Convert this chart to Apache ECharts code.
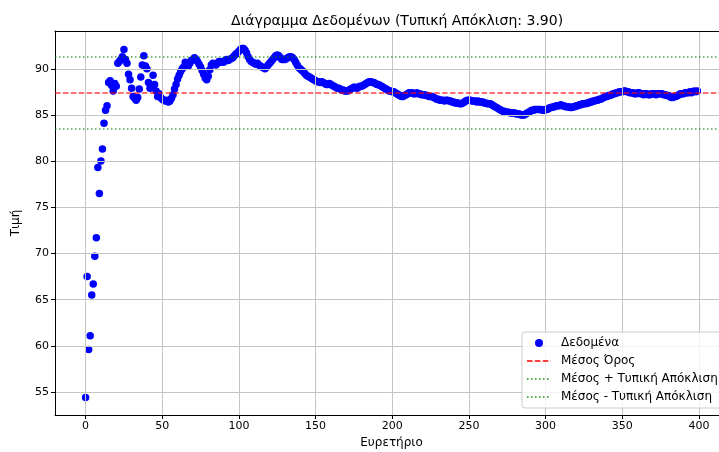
<!DOCTYPE html>
<html>
<head>
<meta charset="utf-8">
<script src="https://cdn.jsdelivr.net/npm/echarts@6/dist/echarts.min.js"></script>
<style>
  html, body { margin: 0; padding: 0; background: #fff; overflow: hidden; }
  #chart { width: 719px; height: 452px; }
</style>
</head>
<body>
<div id="chart"></div>
<script>
// Measured values, one per index 0..399
const values = [
  54.4, 67.5, 59.6, 61.1, 65.5, 66.7, 69.7, 71.7, 79.3, 76.5,
  80.0, 81.3, 84.1, 85.5, 86.0, 88.5, 88.7, 88.2, 87.6, 88.4,
  88.1, 90.6, 90.8, 91.0, 91.3, 92.1, 91.0, 90.6, 89.4, 88.8,
  87.9, 87.0, 86.8, 86.6, 86.9, 87.8, 89.1, 90.4, 91.4, 90.3,
  90.0, 88.5, 87.9, 88.0, 89.3, 88.3, 87.6, 87.0, 87.3, 86.9,
  86.7, 86.6, 86.5, 86.6, 86.4, 86.5, 86.8, 87.2, 87.8, 88.3,
  88.9, 89.3, 89.7, 90.0, 90.2, 90.7, 90.5, 90.3, 90.6, 90.9,
  91.0, 91.2, 91.0, 90.8, 90.5, 90.2, 89.8, 89.4, 89.0, 88.8,
  89.2, 89.9, 90.4, 90.6, 90.5, 90.4, 90.6, 90.8, 90.7, 90.8,
  90.7, 90.9, 91.0, 90.9, 91.0, 91.1, 91.2, 91.4, 91.6, 91.7,
  91.9, 92.1, 92.2, 92.2, 92.0, 91.7, 91.3, 91.0, 90.8, 90.7,
  90.6, 90.5, 90.6, 90.4, 90.3, 90.2, 90.1, 90.0, 90.2, 90.4,
  90.6, 90.8, 91.0, 91.2, 91.4, 91.5, 91.4, 91.2, 91.0, 91.0,
  91.0, 91.1, 91.2, 91.3, 91.3, 91.2, 91.0, 90.7, 90.4, 90.1,
  90.0, 89.8, 89.7, 89.5, 89.3, 89.2, 89.1, 89.0, 88.9, 88.8,
  88.7, 88.6, 88.6, 88.5, 88.6, 88.5, 88.4, 88.3, 88.3, 88.4,
  88.3, 88.2, 88.1, 88.0, 87.9, 87.9, 87.8, 87.7, 87.7, 87.6,
  87.6, 87.6, 87.7, 87.8, 87.9, 88.0, 88.0, 87.9, 88.0, 88.1,
  88.1, 88.2, 88.3, 88.4, 88.5, 88.6, 88.6, 88.5, 88.5, 88.4,
  88.3, 88.3, 88.2, 88.1, 88.0, 87.9, 87.8, 87.7, 87.6, 87.6,
  87.5, 87.5, 87.4, 87.3, 87.2, 87.1, 87.0, 87.0, 87.1, 87.2,
  87.3, 87.4, 87.4, 87.4, 87.3, 87.3, 87.4, 87.3, 87.3, 87.2,
  87.2, 87.2, 87.1, 87.1, 87.0, 87.0, 87.0, 86.9, 86.8, 86.7,
  86.7, 86.6, 86.6, 86.6, 86.5, 86.6, 86.6, 86.5, 86.5, 86.4,
  86.4, 86.3, 86.3, 86.3, 86.2, 86.2, 86.3, 86.4, 86.5, 86.6,
  86.6, 86.6, 86.5, 86.5, 86.5, 86.4, 86.5, 86.4, 86.4, 86.4,
  86.3, 86.3, 86.2, 86.2, 86.2, 86.1, 86.0, 85.9, 85.8, 85.7,
  85.6, 85.5, 85.4, 85.4, 85.3, 85.3, 85.3, 85.2, 85.2, 85.2,
  85.2, 85.1, 85.1, 85.1, 85.0, 85.0, 85.0, 85.1, 85.2, 85.3,
  85.4, 85.5, 85.5, 85.6, 85.6, 85.6, 85.6, 85.6, 85.5, 85.5,
  85.6, 85.6, 85.7, 85.8, 85.8, 85.9, 85.9, 86.0, 86.0, 86.0,
  86.1, 86.0, 86.0, 85.9, 85.9, 85.9, 85.8, 85.8, 85.9, 85.9,
  86.0, 86.0, 86.1, 86.1, 86.2, 86.2, 86.2, 86.3, 86.3, 86.4,
  86.4, 86.5, 86.5, 86.6, 86.6, 86.7, 86.7, 86.8, 86.9, 87.0,
  87.0, 87.1, 87.1, 87.2, 87.3, 87.3, 87.4, 87.4, 87.5, 87.5,
  87.5, 87.6, 87.6, 87.5, 87.5, 87.4, 87.4, 87.4, 87.3, 87.3,
  87.4, 87.4, 87.3, 87.3, 87.2, 87.3, 87.3, 87.2, 87.2, 87.3,
  87.3, 87.3, 87.2, 87.3, 87.3, 87.3, 87.3, 87.2, 87.2, 87.1,
  87.1, 87.0, 86.9, 86.9, 87.0, 87.0, 87.1, 87.2, 87.3, 87.3,
  87.3, 87.4, 87.4, 87.4, 87.5, 87.4, 87.5, 87.6, 87.5, 87.6
];

// Summary statistics shown as reference lines
const meanValue = 87.40;
const stdValue = 3.90;

// Tick positions
const xTicks = [0, 50, 100, 150, 200, 250, 300, 350, 400];
const yTicks = [55, 60, 65, 70, 75, 80, 85, 90];

// Texts
const titleText = 'Διάγραμμα Δεδομένων (Τυπική Απόκλιση: ' + stdValue.toFixed(2) + ')';
const xName = 'Ευρετήριο';
const yName = 'Τιμή';
const seriesNames = ['Δεδομένα', 'Μέσος Όρος', 'Μέσος + Τυπική Απόκλιση', 'Μέσος - Τυπική Απόκλιση'];

const FONT = 'DejaVu Sans';
const points = values.map((v, i) => [i, v]);

// Axis limits with 5% padding around the data
const xMin = 0, xMax = values.length - 1;
const yLo = Math.min(...values), yHi = Math.max(...values);
const xPad = (xMax - xMin) * 0.05, yPad = (yHi - yLo) * 0.05;

const HIDDEN = 'rgba(0,0,0,0)';

// Horizontal reference line, drawn as a markLine of an otherwise empty line series
function refLine(name, y, color, dash) {
  const style = { color: color, width: 1.5, type: dash };
  return {
    name: name,
    type: 'line',
    data: [],
    symbol: 'none',
    z: 4,
    lineStyle: style,
    itemStyle: { color: HIDDEN },
    markLine: {
      silent: true,
      symbol: ['none', 'none'],
      label: { show: false },
      lineStyle: style,
      data: [{ yAxis: y }]
    }
  };
}

const tickFont = { color: '#000', fontFamily: FONT, fontSize: 11 };
const spine = { show: true, onZero: false, lineStyle: { color: '#000', width: 1 } };
const axisCommon = {
  type: 'value',
  z: 3,
  axisLine: spine,
  axisTick: { show: true, length: 4, lineStyle: { color: '#000', width: 1 } },
  splitLine: { show: true, lineStyle: { color: '#c4c4c4', width: 1 } },
  nameLocation: 'middle',
  nameTextStyle: { color: '#000', fontFamily: FONT, fontSize: 12 }
};

const chart = echarts.init(document.getElementById('chart'), null, { renderer: 'canvas' });
chart.setOption({
  animation: false,
  backgroundColor: '#fff',
  title: {
    text: titleText,
    left: 392,
    textAlign: 'center',
    top: 9,
    textStyle: { fontFamily: FONT, fontSize: 14, fontWeight: 'normal', color: '#000' }
  },
  grid: {
    left: 55, top: 31, width: 673, height: 384,
    outerBoundsMode: 'none',
    containLabel: false,
    show: false
  },
  xAxis: [
    Object.assign({}, axisCommon, {
      min: xMin - xPad,
      max: xMax + xPad,
      name: xName,
      nameGap: 19,
      axisTick: Object.assign({}, axisCommon.axisTick, { customValues: xTicks }),
      axisLabel: Object.assign({ margin: 6, customValues: xTicks }, tickFont)
    }),
    // top frame line
    {
      type: 'value',
      position: 'top',
      z: 3,
      min: xMin - xPad,
      max: xMax + xPad,
      axisLine: spine,
      axisTick: { show: false },
      axisLabel: { show: false },
      splitLine: { show: false }
    }
  ],
  yAxis: Object.assign({}, axisCommon, {
    min: yLo - yPad,
    max: yHi + yPad,
    name: yName,
    nameGap: 33,
    axisTick: Object.assign({}, axisCommon.axisTick, { customValues: yTicks }),
    axisLabel: Object.assign({ margin: 6, customValues: yTicks }, tickFont)
  }),
  legend: {
    orient: 'vertical',
    left: 522,
    top: 332,
    padding: [5, 30, 5, 4],
    itemWidth: 24,
    itemHeight: 8,
    itemGap: 6,
    backgroundColor: 'rgba(255,255,255,0.8)',
    borderColor: '#cccccc',
    borderWidth: 1,
    borderRadius: 3,
    textStyle: { fontFamily: FONT, fontSize: 12, color: '#000', lineHeight: 12, padding: [0, 0, 0, 5] },
    data: [
      { name: seriesNames[0], icon: 'circle' },
      { name: seriesNames[1], itemStyle: { opacity: 0 } },
      { name: seriesNames[2], itemStyle: { opacity: 0 } },
      { name: seriesNames[3], itemStyle: { opacity: 0 } }
    ]
  },
  series: [
    {
      name: seriesNames[0],
      type: 'scatter',
      z: 1,
      symbol: 'circle',
      symbolSize: 7.5,
      itemStyle: { color: '#0000ff', opacity: 1 },
      data: points
    },
    refLine(seriesNames[1], meanValue, 'rgba(255,0,0,0.75)', [5.5, 2.4]),
    refLine(seriesNames[2], meanValue + stdValue, 'rgba(0,128,0,0.7)', [1.5, 2.5]),
    refLine(seriesNames[3], meanValue - stdValue, 'rgba(0,128,0,0.7)', [1.5, 2.5])
  ]
});
</script>
</body>
</html>
